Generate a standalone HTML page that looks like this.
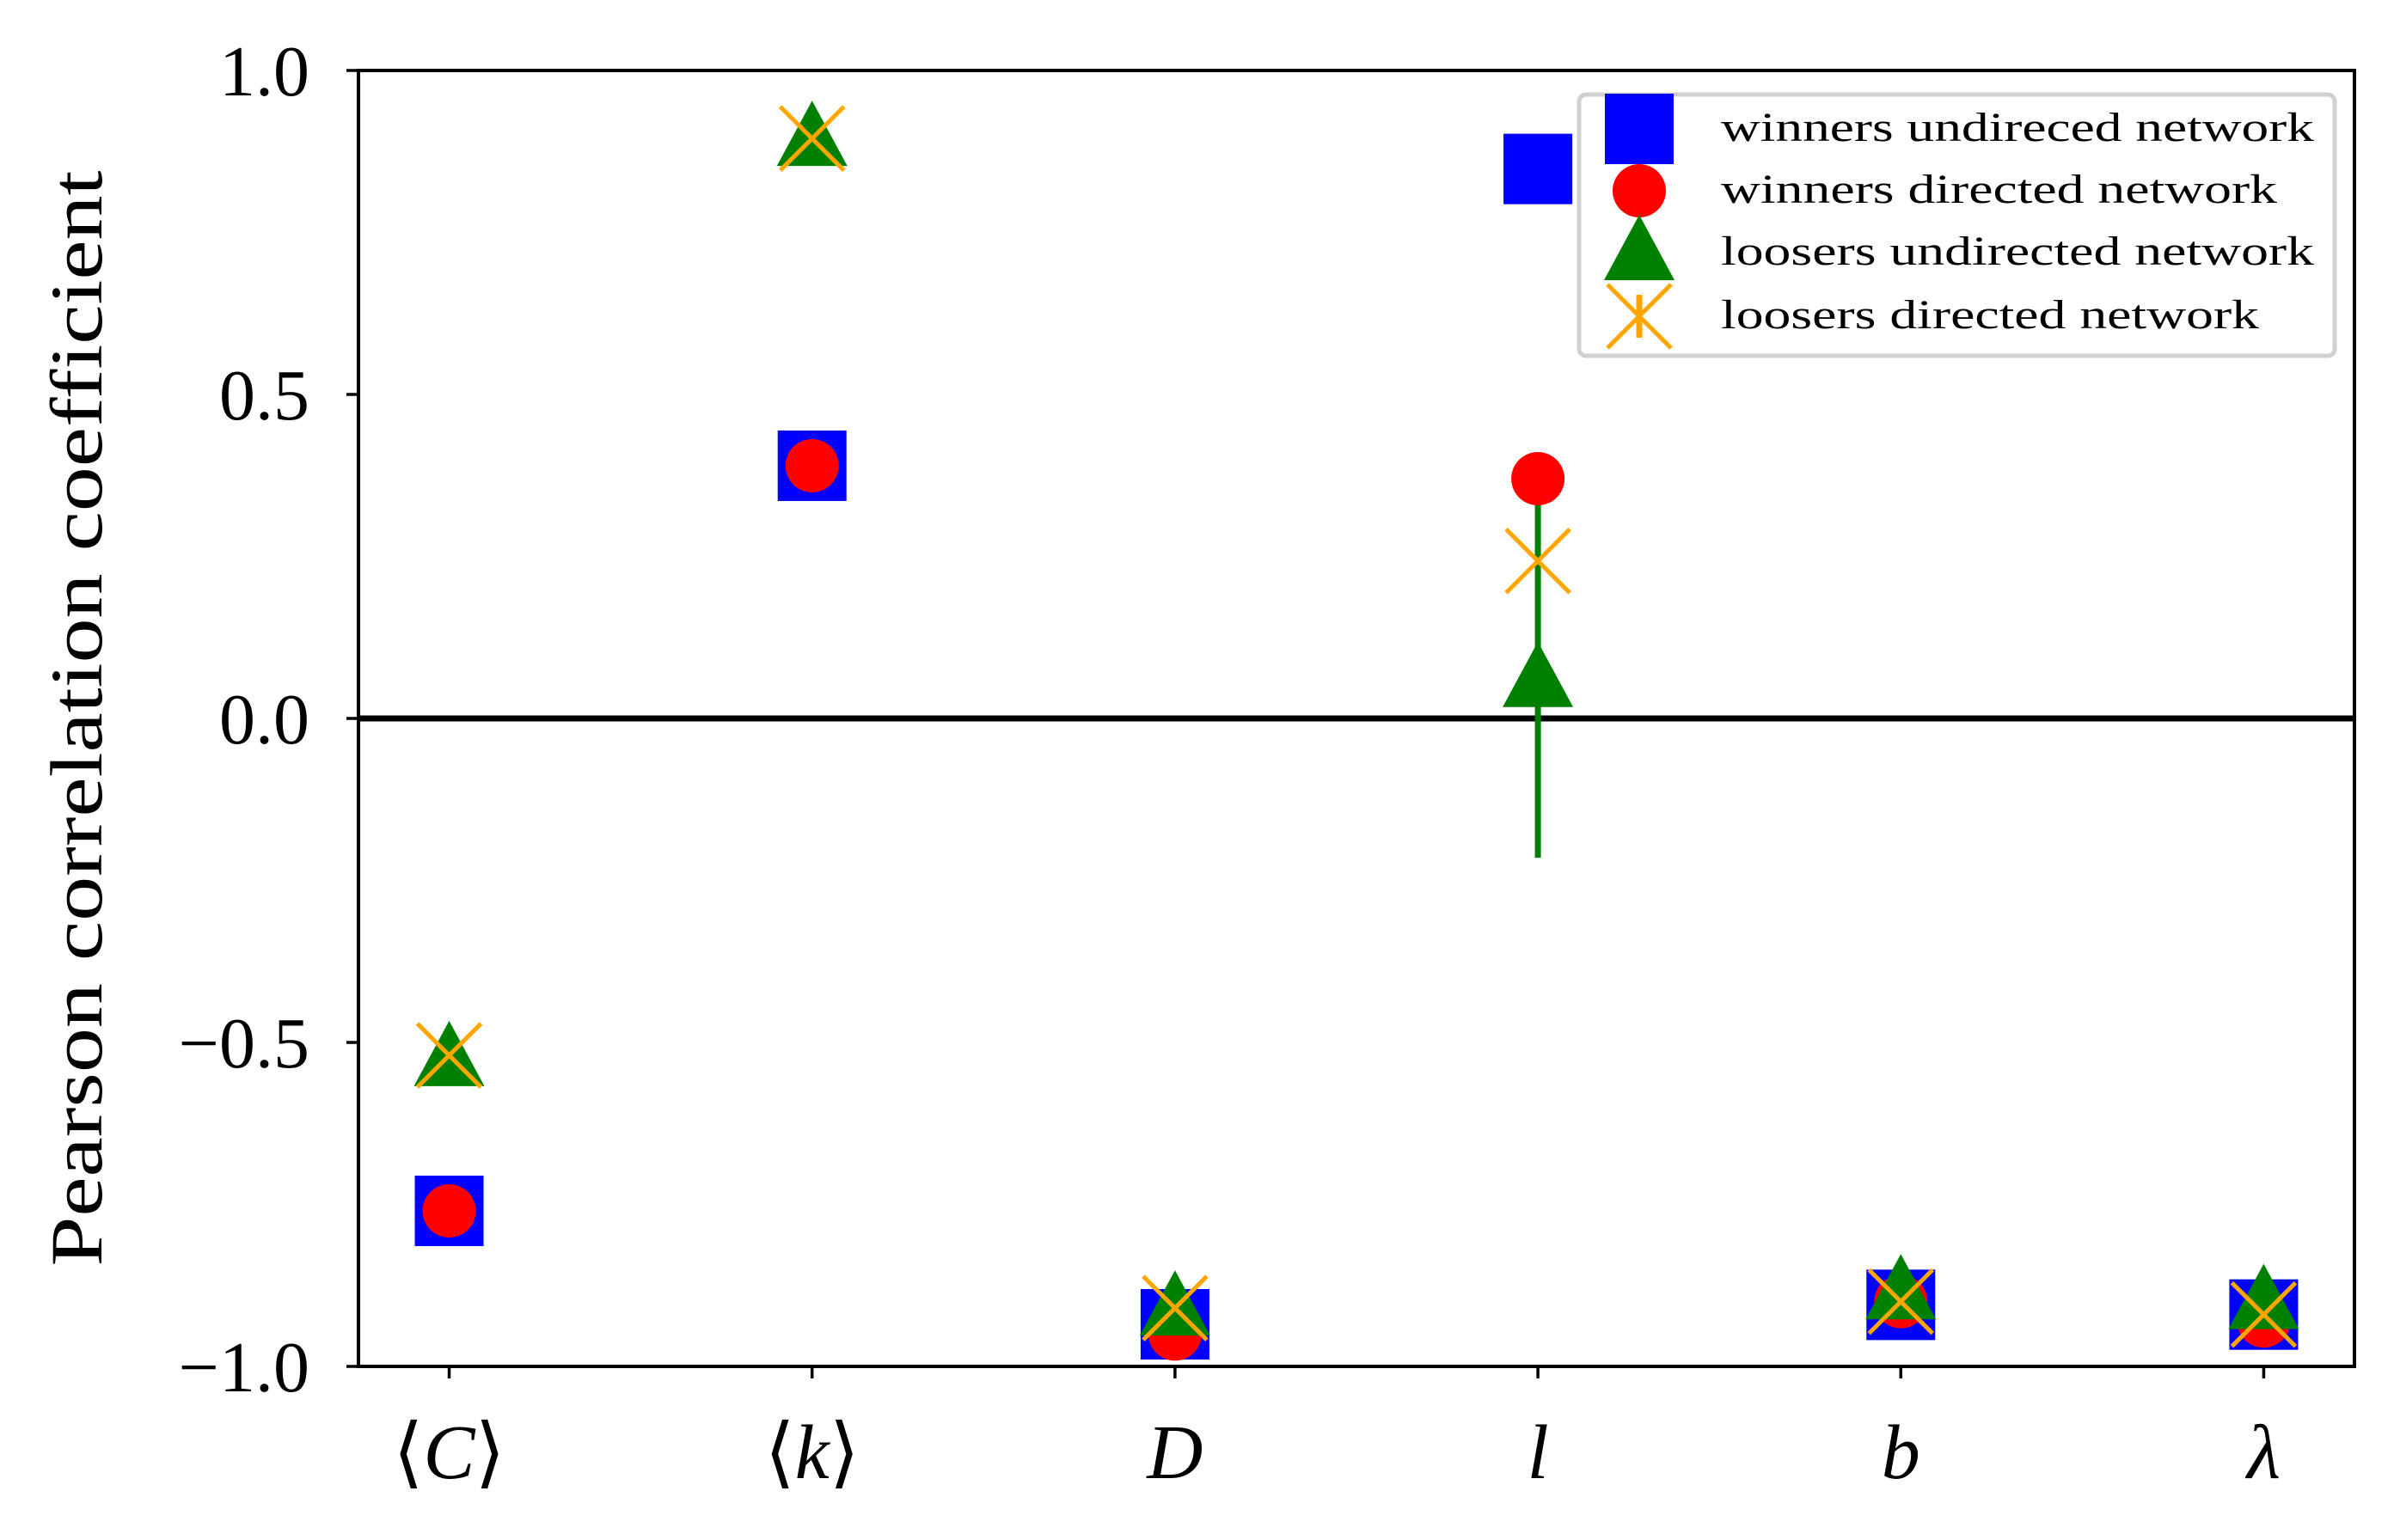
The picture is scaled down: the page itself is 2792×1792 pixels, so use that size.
<!DOCTYPE html>
<html><head><meta charset="utf-8"><style>html,body{margin:0;padding:0;background:#fff}svg{display:block}text{font-family:"Liberation Serif","DejaVu Serif",serif;fill:#000}</style></head>
<body>
<svg id="chart" width="2792" height="1792" viewBox="0 0 2792 1792" xmlns="http://www.w3.org/2000/svg">
<rect width="2792" height="1792" fill="#fff"/>
<g id="marks"></g>
<g id="axes"></g>
<g id="legend"></g>
</svg>
<script>
const categories = ["C","k","D","l","b","λ"];
const winnersUndirected = [-0.76, 0.39, -0.935, 0.848, -0.905, -0.92];
const winnersDirected = [-0.76, 0.39, -0.95, 0.37, -0.90, -0.93];
const loosersUndirected = [-0.525, 0.895, -0.91, 0.06, -0.885, -0.90];
const loosersDirected = [-0.52, 0.895, -0.91, 0.243, -0.90, -0.92];
const loosersUndirectedErr = [0, 0, 0, 0.275, 0, 0];
const yTicks = [-1.0, -0.5, 0.0, 0.5, 1.0];
const yTickLabels = ["−1.0","−0.5","0.0","0.5","1.0"];

const L=417,R=2739,T=82,B=1590;
const X=i=>L+(i+0.25)/5.5*(R-L);
const Y=v=>B-(v+1)/2*(B-T);
const NS="http://www.w3.org/2000/svg";
function mk(tag,attrs,parent){const e=document.createElementNS(NS,tag);for(const k in attrs)e.setAttribute(k,attrs[k]);parent.appendChild(e);return e;}
const marks=document.getElementById('marks'),axes=document.getElementById('axes'),leg=document.getElementById('legend');

function square(cx,cy,p){return mk('rect',{x:cx-40,y:cy-41,width:80,height:82,fill:'#0000ff'},p);}
function circle(cx,cy,p){return mk('circle',{cx:cx,cy:cy,r:31,fill:'#ff0000'},p);}
function tri(cx,cy,p){return mk('polygon',{points:`${cx},${cy-44} ${cx-41},${cy+32} ${cx+41},${cy+32}`,fill:'#008000'},p);}
function cross(cx,cy,p){return mk('path',{d:`M${cx-37},${cy-37}L${cx+37},${cy+37}M${cx-37},${cy+37}L${cx+37},${cy-37}`,stroke:'#ffa500','stroke-width':5,fill:'none'},p);}

let z=mk('line',{x1:L,x2:R,y1:Y(0),y2:Y(0),stroke:'#000','stroke-width':7},marks);



categories.forEach((c,i)=>{
  const cx=X(i);
  let e=square(cx,Y(winnersUndirected[i]),marks);
  
  
  if(loosersUndirectedErr[i]>0){
    e=mk('line',{x1:cx,x2:cx,y1:Y(loosersUndirected[i]-loosersUndirectedErr[i]),y2:Y(loosersUndirected[i]+loosersUndirectedErr[i]),stroke:'#008000','stroke-width':7},marks);
    
    
  }
  e=circle(cx,Y(winnersDirected[i]),marks);
  
  
  e=tri(cx,Y(loosersUndirected[i]),marks);
  
  
  e=cross(cx,Y(loosersDirected[i]),marks);
  
  
  e=mk('line',{x1:cx,x2:cx,y1:B,y2:B+14,stroke:'#000','stroke-width':3.5},axes);
  
  
  e=mk('text',{x:cx,y:1720,'font-size':90,'text-anchor':'middle'},axes);
  if(i<2){
    const a=mk('tspan',{'font-style':'normal'},e);a.textContent='⟨';
    const b=mk('tspan',{'font-style':'italic'},e);b.textContent=c;
    const d=mk('tspan',{'font-style':'normal'},e);d.textContent='⟩';
  } else { e.setAttribute('font-style','italic'); e.textContent=c; }
  
  
});

yTicks.forEach((v,i)=>{
  let e=mk('line',{x1:L-14,x2:L,y1:Y(v),y2:Y(v),stroke:'#000','stroke-width':3.5},axes);
  
  
  e=mk('text',{x:360,y:Y(v)+29,'font-size':84,'text-anchor':'end'},axes);
  e.textContent=yTickLabels[i];
  
  
});
let fr=mk('rect',{x:L,y:T,width:R-L,height:B-T,fill:'none',stroke:'#000','stroke-width':4},axes);


let yl=mk('text',{x:0,y:0,'font-size':86,'text-anchor':'middle',transform:'translate(118,836) rotate(-90)',textLength:1275,lengthAdjust:'spacingAndGlyphs'},axes);
yl.textContent='Pearson correlation coefficient';



let lb=mk('rect',{x:1837,y:110,width:879,height:304,rx:8,fill:'#fff','fill-opacity':0.85,stroke:'#d0d0d0','stroke-width':5},leg);


const legendLabels=["winners undireced network","winners directed network","loosers undirected network","loosers directed network"];
const legendLens=[690,647,690,626];
const legendY=[150,222,294,368];
const fns=[square,circle,tri,cross];
legendLabels.forEach((t,i)=>{
  const g=mk('g',{},leg);
  
  
  fns[i](1907,legendY[i],g);
  if(i===3){mk('line',{x1:1907,x2:1907,y1:legendY[i]-25,y2:legendY[i]+25,stroke:'#ffa500','stroke-width':7},g);}
  const tx=mk('text',{x:2002,y:legendY[i]+14,'font-size':48,textLength:legendLens[i],lengthAdjust:'spacingAndGlyphs'},g);
  tx.textContent=t;
});
</script>
</body></html>
